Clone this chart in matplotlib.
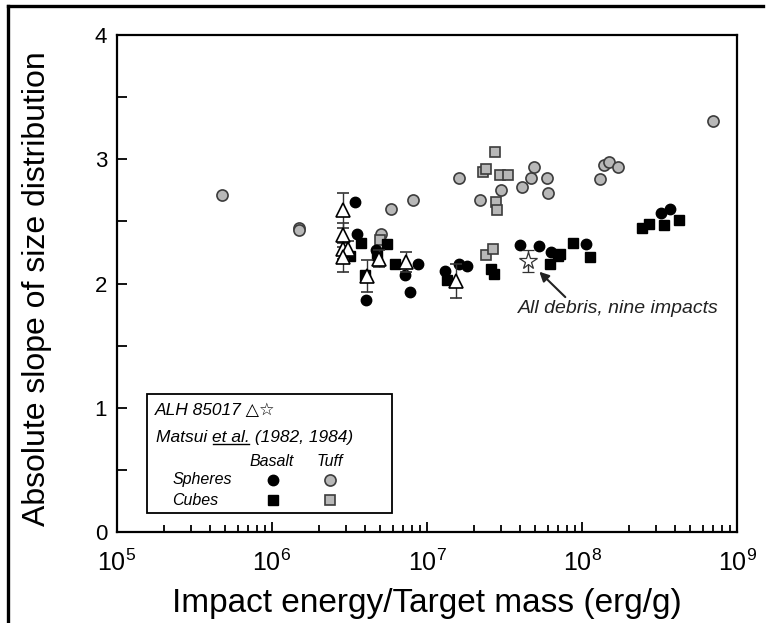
import numpy as np
import matplotlib
matplotlib.use("Agg")
import matplotlib.pyplot as plt
from matplotlib.lines import Line2D
from matplotlib.patches import Rectangle

plt.rcParams['font.family'] = ['Liberation Sans', 'DejaVu Sans']
plt.rcParams['mathtext.fontset'] = 'custom'
plt.rcParams['mathtext.rm'] = 'Liberation Sans'

# Matsui et al. tuff spheres (gray circles)
tuff_sph_x = [4.75e5, 1.5e6, 1.5e6, 5.05e6, 5.84e6, 8.1e6, 1.6e7, 2.2e7, 3.0e7, 4.08e7,
              4.69e7, 4.9e7, 5.98e7, 6.0e7, 1.31e8, 1.39e8, 1.49e8, 1.7e8, 6.97e8]
tuff_sph_y = [2.71, 2.45, 2.43, 2.40, 2.60, 2.67, 2.85, 2.67, 2.75, 2.78,
              2.85, 2.94, 2.85, 2.73, 2.84, 2.95, 2.98, 2.94, 3.31]

# tuff cubes (gray squares)
tuff_cube_x = [4.95e6, 2.28e7, 2.39e7, 2.75e7, 2.96e7, 3.32e7, 2.8e7, 2.84e7, 2.4e7, 2.68e7]
tuff_cube_y = [2.35, 2.90, 2.92, 3.06, 2.87, 2.87, 2.66, 2.59, 2.23, 2.28]

# basalt spheres (black circles)
basalt_sph_x = [3.43e6, 3.53e6, 4.03e6, 4.69e6, 7.2e6, 7.8e6, 8.8e6, 1.31e7, 1.6e7, 1.8e7,
                3.98e7, 5.3e7, 6.29e7, 1.06e8, 3.24e8, 3.7e8]
basalt_sph_y = [2.66, 2.40, 1.87, 2.27, 2.07, 1.93, 2.16, 2.10, 2.16, 2.14,
                2.31, 2.30, 2.25, 2.32, 2.57, 2.60]

# basalt cubes (black squares)
basalt_cube_x = [3.2e6, 3.73e6, 4.0e6, 4.78e6, 5.55e6, 6.2e6, 1.34e7, 2.59e7, 2.7e7, 6.17e7,
                 7.0e7, 7.2e7, 8.8e7, 1.12e8, 2.43e8, 2.72e8, 3.38e8, 4.25e8]
basalt_cube_y = [2.22, 2.33, 2.07, 2.23, 2.32, 2.16, 2.03, 2.12, 2.08, 2.16,
                 2.22, 2.24, 2.33, 2.21, 2.45, 2.48, 2.47, 2.51]

# ALH 85017 single impacts (open triangles) and all-debris (star)
alh_x = [2.86e6, 2.86e6, 2.86e6, 3.1e6, 2.86e6, 4.07e6, 4.9e6, 7.3e6, 1.53e7]
alh_y = [2.59, 2.39, 2.28, 2.28, 2.21, 2.06, 2.20, 2.17, 2.02]
alh_err = [0.14, 0.10, 0.08, 0.06, 0.12, 0.13, 0.07, 0.08, 0.14]
star_x = [4.5e7]
star_y = [2.18]
star_err = [0.09]

gray = '#b8b8b8'
edge_gray = '#3c3c3c'

fig = plt.figure(figsize=(7.67, 6.23), dpi=100)
ax = fig.add_axes([0.1525, 0.146, 0.8085, 0.7978])

ax.plot(tuff_sph_x, tuff_sph_y, 'o', ms=8, mfc=gray, mec=edge_gray, mew=1.2, ls='none')
ax.plot(tuff_cube_x, tuff_cube_y, 's', ms=7, mfc=gray, mec=edge_gray, mew=1.2, ls='none')
ax.plot(basalt_sph_x, basalt_sph_y, 'o', ms=7.5, color='black', ls='none')
ax.plot(basalt_cube_x, basalt_cube_y, 's', ms=6.5, color='black', ls='none')
ax.errorbar(alh_x, alh_y, yerr=alh_err, fmt='^', ms=9.5, mfc='white', mec='black', mew=1.2,
            ecolor='#333333', elinewidth=1.0, capsize=4, capthick=1.0)
ax.errorbar(star_x, star_y, yerr=star_err, fmt='*', ms=13, mfc='white', mec='#333333', mew=0.9,
            ecolor='#333333', elinewidth=1.0, capsize=4, capthick=1.0)

ax.annotate('All debris, nine impacts', xy=(5.3e7, 2.095), xytext=(3.86e7, 1.80),
            fontsize=14, style='italic', va='center', ha='left', color='#222222',
            arrowprops=dict(arrowstyle='-|>', color='#222222', lw=1.5,
                            shrinkA=0, shrinkB=0, mutation_scale=14,
                            relpos=(0.25, 1.0)))

ax.set_xscale('log')
ax.set_xlim(1e5, 1e9)
ax.set_ylim(0, 4)
ax.set_xticks([1e5, 1e6, 1e7, 1e8, 1e9])
ax.set_xticklabels([r'$\mathregular{10^{%d}}$' % k for k in range(5, 10)])
ax.set_yticks([0, 1, 2, 3, 4])
ax.set_yticks([0.5, 1.5, 2.5, 3.5], minor=True)
ax.tick_params(axis='both', which='both', direction='in', top=False, right=False, width=1.3)
ax.tick_params(axis='x', which='major', length=7, labelsize=18, pad=13)
ax.tick_params(axis='x', which='minor', length=5)
ax.tick_params(axis='y', which='major', length=7, labelsize=16, pad=7)
ax.tick_params(axis='y', which='minor', length=7)
for sp in ax.spines.values():
    sp.set_linewidth(1.6)

ax.set_xlabel('Impact energy/Target mass (erg/g)', fontsize=24)
ax.set_ylabel('Absolute slope of size distribution', fontsize=23)
ax.xaxis.set_label_coords(0.5, -0.112)
ax.yaxis.set_label_coords(-0.105, 0.49)

# key box
ax.add_patch(Rectangle((0.048, 0.038), 0.396, 0.240, transform=ax.transAxes,
                       fill=False, lw=1.3, ec='black'))
ax.text(0.061, 0.245, 'ALH 85017 \u25b3\u2606', transform=ax.transAxes, fontsize=12.5,
        style='italic', va='center', ha='left')
t1 = ax.text(0.063, 0.191, 'Matsui ', transform=ax.transAxes, fontsize=12.5,
             style='italic', va='center', ha='left')
t2 = ax.annotate('et al.', xy=(1, 0), xycoords=t1, fontsize=12.5, style='italic',
                 va='bottom', ha='left')
ax.annotate(' (1982, 1984)', xy=(1, 0), xycoords=t2, fontsize=12.5, style='italic',
            va='bottom', ha='left')
fig.canvas.draw()
bb = t2.get_window_extent()
inv = ax.transAxes.inverted()
(ux0, uy0), (ux1, uy1) = inv.transform([(bb.x0, bb.y0), (bb.x1, bb.y0)])
ax.add_line(Line2D([ux0 + 0.002, ux1 - 0.002], [uy0 + 0.002, uy0 + 0.002],
                   transform=ax.transAxes, color='black', lw=1.0))

ax.text(0.250, 0.141, 'Basalt', transform=ax.transAxes, fontsize=11.5, style='italic',
        ha='center', va='center')
ax.text(0.343, 0.141, 'Tuff', transform=ax.transAxes, fontsize=11.5, style='italic',
        ha='center', va='center')
ax.text(0.089, 0.105, 'Spheres', transform=ax.transAxes, fontsize=11.5, style='italic',
        ha='left', va='center')
ax.text(0.089, 0.064, 'Cubes', transform=ax.transAxes, fontsize=11.5, style='italic',
        ha='left', va='center')
ax.plot([0.252], [0.105], 'o', ms=7.5, color='black', transform=ax.transAxes)
ax.plot([0.343], [0.105], 'o', ms=8, mfc=gray, mec=edge_gray, mew=1.2, transform=ax.transAxes)
ax.plot([0.252], [0.064], 's', ms=6.5, color='black', transform=ax.transAxes)
ax.plot([0.343], [0.064], 's', ms=7, mfc=gray, mec=edge_gray, mew=1.2, transform=ax.transAxes)

# outer frame (left and top only)
fig.add_artist(Line2D([0.0098, 0.0098], [0.0, 0.990], transform=fig.transFigure,
                      color='black', lw=2.4))
fig.add_artist(Line2D([0.0098, 0.995], [0.990, 0.990], transform=fig.transFigure,
                      color='black', lw=2.4))

fig.savefig('out.png', dpi=100)
